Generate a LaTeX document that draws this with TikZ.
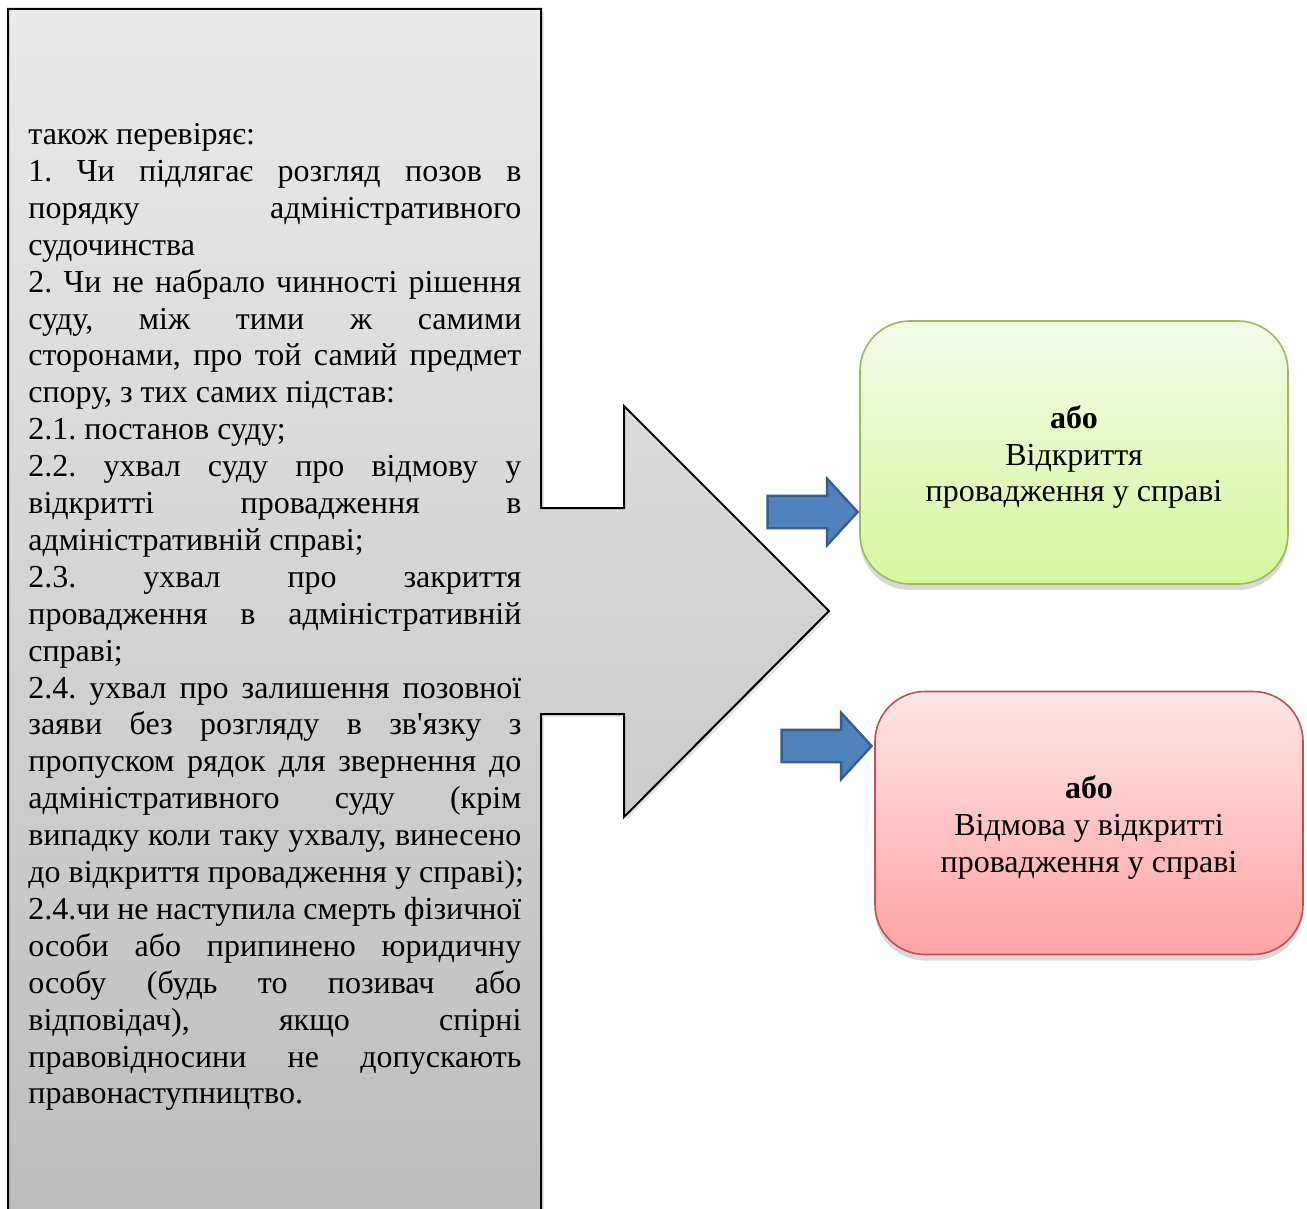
\documentclass[tikz,border=0pt]{standalone}
\usepackage{fontspec}
\setmainfont{Liberation Serif}
\usetikzlibrary{shapes.arrows,shadows}

\definecolor{calloutTop}{RGB}{234,234,234}
\definecolor{calloutBot}{RGB}{188,188,188}
\definecolor{greenTop}{RGB}{243,251,232}
\definecolor{greenBot}{RGB}{214,247,158}
\definecolor{greenLine}{RGB}{155,187,89}
\definecolor{redTop}{RGB}{255,230,230}
\definecolor{redBot}{RGB}{255,163,163}
\definecolor{redLine}{RGB}{192,80,77}
\definecolor{arrowFill}{RGB}{79,129,189}
\definecolor{arrowLine}{RGB}{56,93,138}

\newlength{\calloutwidth}
\setlength{\calloutwidth}{246.5pt}
% justified and plain lines of the callout text
\newcommand{\jl}[1]{\makebox[\calloutwidth][s]{#1}\par}
\newcommand{\lastl}[1]{\makebox[\calloutwidth][l]{#1}\par}

\tikzset{
  bodytext/.style={font=\fontsize{16}{18.45}\selectfont,
    execute at begin node={\spaceskip=0pt\xspaceskip=0pt\frenchspacing}},
  outcome/.style={rectangle, rounded corners=25pt, minimum width=214pt, minimum height=131.5pt,
    line width=0.8pt, align=center, bodytext,
    drop shadow={opacity=0.3, shadow xshift=0pt, shadow yshift=-3pt}},
  blockarrow/.style={single arrow, draw=arrowLine, fill=arrowFill, line width=1.2pt,
    minimum height=45pt, minimum width=32pt, inner sep=7.5pt,
    single arrow head extend=8.5pt, single arrow tip angle=95}
}

\begin{document}
\begin{tikzpicture}[x=0.5pt, y=-0.5pt]
  \useasboundingbox (0,0) rectangle (1307,1209);
  \clip (0,0) rectangle (1307,1209);

  % callout with the arrow
  \path[top color=calloutTop, bottom color=calloutBot, draw=black, line width=1pt,
    drop shadow={opacity=0.2, shadow xshift=1.5pt, shadow yshift=-1.5pt}]
    (8,9) -- (541,9) -- (541,508) -- (624,508) -- (624,406) -- (829,611)
    -- (624,817) -- (624,714) -- (541,714) -- (541,1240) -- (8,1240) -- cycle;

  \node[anchor=north west, inner sep=0pt, text width=\calloutwidth, bodytext] (checks) at (28,123) {%
    \setlength{\parindent}{0pt}%
    \lastl{також перевіряє:}
    \jl{1. Чи підлягає розгляд позов в}
    \jl{порядку адміністративного}
    \lastl{судочинства}
    \jl{2. Чи не набрало чинності рішення}
    \jl{суду, між тими ж самими}
    \jl{сторонами, про той самий предмет}
    \lastl{спору, з тих самих підстав:}
    \lastl{2.1. постанов суду;}
    \jl{2.2. ухвал суду про відмову у}
    \jl{відкритті провадження в}
    \lastl{адміністративній справі;}
    \jl{2.3. ухвал про закриття}
    \jl{провадження в адміністративній}
    \lastl{справі;}
    \jl{2.4. ухвал про залишення позовної}
    \jl{заяви без розгляду в зв\textquotesingle язку з}
    \jl{пропуском рядок для звернення до}
    \jl{адміністративного суду (крім}
    \jl{випадку коли таку ухвалу, винесено}
    \lastl{до відкриття провадження у справі);}
    \jl{2.4.чи не наступила смерть фізичної}
    \jl{особи або припинено юридичну}
    \jl{особу (будь то позивач або}
    \jl{відповідач), якщо спірні}
    \jl{правовідносини не допускають}
    \lastl{правонаступництво.}};

  % outcomes
  \node[outcome, top color=greenTop, bottom color=greenBot, draw=greenLine] (open) at (1074,452.5)
    {\rule{0pt}{16pt}\textbf{або}\\Відкриття\\провадження у справі};
  \node[outcome, top color=redTop, bottom color=redBot, draw=redLine] (refuse) at (1089,823)
    {\rule{0pt}{16pt}\textbf{або}\\Відмова у відкритті\\провадження у справі};

  \node[blockarrow, anchor=tip] (toOpen) at ([yshift=-29.75pt]open.west) {};
  \node[blockarrow, anchor=tip] (toRefuse) at ([xshift=-0.5pt, yshift=38.5pt]refuse.west) {};
\end{tikzpicture}
\end{document}
